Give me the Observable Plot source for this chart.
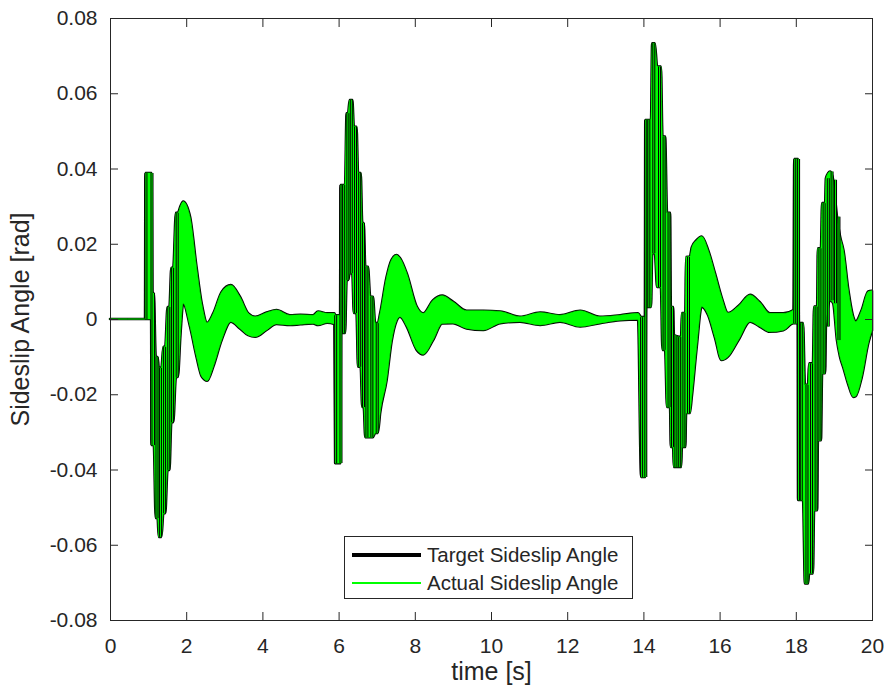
<!DOCTYPE html>
<html>
<head>
<meta charset="utf-8">
<script src="https://cdn.jsdelivr.net/npm/d3@7"></script>
<script src="https://cdn.jsdelivr.net/npm/@observablehq/plot@0.6"></script>
<style>
  html, body { margin: 0; padding: 0; background: #fff; }
  #wrap { position: relative; width: 888px; height: 696px; font-family: "Liberation Sans", Arial, Helvetica, sans-serif; }
  #legend { position: absolute; left: 344px; top: 536px; width: 289px; height: 63px; border: 1px solid #262626; background: #fff; box-sizing: border-box; }
  .lg-row { position: absolute; left: 0; height: 28px; width: 100%; }
  .lg-line { position: absolute; left: 7px; width: 69px; }
  .lg-text { position: absolute; left: 82px; font-size: 20.5px; color: #262626; white-space: nowrap; line-height: 28px; top: 0; }
</style>
</head>
<body>
<div id="wrap">
  <div id="chart"></div>
  <div id="legend">
    <div class="lg-row" style="top:4px"><div class="lg-line" style="top:12px;height:4px;background:#000"></div><div class="lg-text">Target Sideslip Angle</div></div>
    <div class="lg-row" style="top:32px"><div class="lg-line" style="top:13px;height:1.5px;background:#00ff00"></div><div class="lg-text">Actual Sideslip Angle</div></div>
  </div>
</div>
<script>
// Envelope of the oscillating sideslip signal (time [s], upper and lower value [rad])
const time = [0, 0.92, 0.93, 1.08, 1.09, 1.11, 1.15, 1.20, 1.25, 1.28, 1.35, 1.40, 1.45, 1.51, 1.56, 1.61, 1.66, 1.73, 1.78, 1.85, 1.92, 2.10, 2.27, 2.41, 2.55, 2.71, 2.93, 3.17, 3.41, 3.63, 3.81, 4.11, 4.37, 4.72, 5.00, 5.33, 5.46, 5.70, 5.89,
  5.91, 6.04, 6.05, 6.06, 6.17, 6.21, 6.25, 6.29, 6.36, 6.40, 6.47, 6.51, 6.58, 6.62, 6.66, 6.70, 6.77, 6.83, 6.90, 6.96, 7.03, 7.09, 7.26, 7.39, 7.52, 7.61, 7.79, 8.05, 8.22, 8.48, 8.72, 9.00, 9.36, 9.80, 10.24, 10.76, 11.29, 11.81, 12.34, 12.86, 13.39, 13.86,
  13.94, 14.04, 14.05, 14.07, 14.20, 14.23, 14.30, 14.36, 14.46, 14.50, 14.57, 14.62, 14.70, 14.72, 14.78, 14.80, 14.99, 15.01, 15.10, 15.12, 15.22, 15.27, 15.40, 15.53, 15.70, 15.88, 16.05, 16.22, 16.50, 16.80, 17.05, 17.32, 17.67, 17.94,
  17.96, 18.05, 18.06, 18.08, 18.19, 18.24, 18.32, 18.35, 18.45, 18.48, 18.56, 18.58, 18.66, 18.69, 18.77, 18.79, 18.90, 18.98, 19.08, 19.16, 19.25, 19.38, 19.51, 19.57, 19.73, 19.90, 20.00];
const upper = [0, 0, 0.0388, 0.0388, 0.0388, 0.0069, 0.0069, -0.0101, -0.0101, -0.0130, -0.0130, -0.0074, -0.0074, 0.0032, 0.0032, 0.0136, 0.0136, 0.0282, 0.0282, 0.0300, 0.0312, 0.0272, 0.0139, 0.0040, -0.0010, 0.0015, 0.0072, 0.0090, 0.0059, 0.0015, 0.0006, 0.0017, 0.0024, 0.0010, 0.0011, 0.0010, 0.0020, 0.0015, 0.0015,
  0.0010, 0.0010, 0.0356, 0.0356, 0.0356, 0.0547, 0.0547, 0.0582, 0.0582, 0.0511, 0.0511, 0.0388, 0.0388, 0.0255, 0.0255, 0.0139, 0.0139, 0.0059, 0.0059, -0.0011, -0.0011, 0.0015, 0.0112, 0.0157, 0.0170, 0.0162, 0.0121, 0.0033, 0.0015, 0.0050, 0.0062, 0.0046, 0.0022, 0.0022, 0.0020, 0.0006, 0.0017, 0.0010, 0.0022, 0.0006, 0.0010, 0.0015,
  0.0005, 0.0005, 0.0529, 0.0529, 0.0529, 0.0733, 0.0733, 0.0671, 0.0671, 0.0485, 0.0485, 0.0282, 0.0282, 0.0032, 0.0032, -0.0043, -0.0048, 0.0016, 0.0016, 0.0165, 0.0166, 0.0190, 0.0210, 0.0219, 0.0183, 0.0121, 0.0059, 0.0016, 0.0035, 0.0064, 0.0045, 0.0015, 0.0015, 0.0024,
  0.0425, 0.0425, 0.0425, -0.0011, -0.0011, -0.0175, -0.0175, -0.0118, -0.0118, 0.0033, 0.0033, 0.0188, 0.0188, 0.0308, 0.0308, 0.0374, 0.0392, 0.0370, 0.0272, 0.0220, 0.0183, 0.0077, 0.0005, -0.0007, 0.0024, 0.0073, 0.0075];
const lower = [0, 0, 0, 0, -0.0335, -0.0335, -0.0335, -0.0529, -0.0529, -0.0579, -0.0579, -0.0516, -0.0516, -0.0401, -0.0401, -0.0274, -0.0274, -0.0154, -0.0154, -0.0040, 0.0042, -0.0020, -0.0100, -0.0153, -0.0164, -0.0127, -0.0056, -0.0007, -0.0025, -0.0043, -0.0047, -0.0029, -0.0013, -0.0016, -0.0014, -0.0012, -0.0016, -0.0010, -0.0013,
  -0.0383, -0.0383, -0.0383, -0.0037, -0.0037, 0.0104, 0.0104, 0.0122, 0.0122, 0.0016, 0.0016, -0.0127, -0.0127, -0.0234, -0.0234, -0.0314, -0.0314, -0.0314, -0.0314, -0.0303, -0.0303, -0.0250, -0.0162, -0.0060, -0.0005, 0.0006, -0.0020, -0.0082, -0.0094, -0.0056, -0.0012, -0.0011, -0.0025, -0.0029, -0.0011, -0.0007, -0.0016, -0.0007, -0.0020, -0.0011, -0.0003, -0.0001,
  -0.0420, -0.0420, -0.0420, 0.0032, 0.0032, 0.0175, 0.0175, 0.0085, 0.0085, -0.0082, -0.0082, -0.0234, -0.0234, -0.0340, -0.0340, -0.0393, -0.0393, -0.0340, -0.0340, -0.0250, -0.0250, -0.0207, -0.0074, 0.0033, 0.0010, -0.0050, -0.0109, -0.0100, -0.0055, -0.0007, -0.0020, -0.0034, -0.0030, -0.0011,
  -0.0011, -0.0011, -0.0481, -0.0481, -0.0481, -0.0703, -0.0703, -0.0676, -0.0676, -0.0508, -0.0508, -0.0322, -0.0322, -0.0144, -0.0144, -0.0020, 0.0050, 0.0042, -0.0056, -0.0100, -0.0130, -0.0175, -0.0207, -0.0205, -0.0155, -0.0065, -0.0030];

// Discrete oscillation strokes visible in the transient bursts (time, low, high)
const strokeTime = [0.93, 1.09, 1.13, 1.22, 1.31, 1.42, 1.53, 1.63, 1.75,
  5.91, 6.05, 6.12, 6.23, 6.32, 6.43, 6.54, 6.64, 6.73, 6.86, 7.00,
  13.94, 14.05, 14.13, 14.26, 14.41, 14.53, 14.66, 14.75, 14.84, 14.94, 15.05, 15.17,
  17.96, 18.06, 18.13, 18.28, 18.40, 18.52, 18.62, 18.73, 18.84, 18.94, 19.03, 19.12];
const strokeLow = [0, -0.0335, -0.0335, -0.0529, -0.0579, -0.0516, -0.0401, -0.0274, -0.0154,
  -0.0383, -0.0383, -0.0037, 0.0104, 0.0122, 0.0016, -0.0127, -0.0234, -0.0314, -0.0314, -0.0303,
  -0.0420, -0.0420, 0.0032, 0.0175, 0.0085, -0.0082, -0.0234, -0.0340, -0.0393, -0.0393, -0.0340, -0.0250,
  -0.0011, -0.0481, -0.0481, -0.0703, -0.0676, -0.0508, -0.0322, -0.0144, -0.0020, 0.0050, 0.0042, -0.0056];
const strokeHigh = [0.0388, 0.0388, 0.0069, -0.0101, -0.0130, -0.0074, 0.0032, 0.0136, 0.0282,
  0.0010, 0.0356, 0.0356, 0.0547, 0.0582, 0.0511, 0.0388, 0.0255, 0.0139, 0.0059, -0.0011,
  0.0005, 0.0529, 0.0529, 0.0733, 0.0671, 0.0485, 0.0282, 0.0032, -0.0043, -0.0048, 0.0016, 0.0165,
  0.0425, 0.0425, -0.0011, -0.0175, -0.0118, 0.0033, 0.0188, 0.0308, 0.0374, 0.0392, 0.0370, 0.0272];

const xTicks = [0, 2, 4, 6, 8, 10, 12, 14, 16, 18, 20];
const yTicks = [-0.08, -0.06, -0.04, -0.02, 0, 0.02, 0.04, 0.06, 0.08];
const yTickLabels = ["-0.08", "-0.06", "-0.04", "-0.02", "0", "0.02", "0.04", "0.06", "0.08"];

const env = time.map((t, i) => ({t, hi: upper[i], lo: lower[i]}));
const strokes = strokeTime.map((t, i) => ({t, lo: strokeLow[i], hi: strokeHigh[i]}));

const axisColor = "#262626";
const fs = 21;
const labelFs = 25;

const chart = Plot.plot({
  width: 888,
  height: 696,
  marginLeft: 110,
  marginRight: 16,
  marginTop: 18,
  marginBottom: 76,
  style: {fontFamily: '"Liberation Sans", Arial, Helvetica, sans-serif', background: "#fff", color: axisColor},
  x: {domain: [0, 20]},
  y: {domain: [-0.08, 0.08]},
  marks: [
    // Target (black, thick)
    Plot.areaY(env, {x: "t", y1: "lo", y2: "hi", fill: "black", stroke: "black", strokeWidth: 2.6, curve: "monotone-x"}),
    // Actual (green, thin)
    Plot.areaY(env, {x: "t", y1: "lo", y2: "hi", fill: "#00ff00", stroke: "#00ff00", strokeWidth: 0.6, curve: "monotone-x"}),
    Plot.ruleX(strokes, {x: "t", y1: "lo", y2: "hi", stroke: "black", strokeWidth: 3}),
    Plot.ruleX(strokes, {x: "t", y1: "lo", y2: "hi", stroke: "#00ff00", strokeWidth: 1}),
    Plot.frame({stroke: axisColor, strokeWidth: 1}),
    Plot.axisX(xTicks, {anchor: "bottom", tickSize: -8, tickPadding: 26, fontSize: fs, tickFormat: d => String(d), label: null, stroke: axisColor}),
    Plot.axisX(xTicks, {anchor: "top", tickSize: -8, tickFormat: () => "", label: null, stroke: axisColor}),
    Plot.axisY(yTicks, {anchor: "left", tickSize: -8, tickPadding: 21, fontSize: fs, tickFormat: d => yTickLabels[yTicks.indexOf(d)], label: null, stroke: axisColor}),
    Plot.axisY(yTicks, {anchor: "right", tickSize: -8, tickFormat: () => "", label: null, stroke: axisColor}),
    Plot.text(["time [s]"], {frameAnchor: "bottom", dy: 42, fontSize: labelFs, fill: axisColor, lineAnchor: "top", textAnchor: "middle", text: d => d}),
    Plot.text(["Sideslip Angle [rad]"], {frameAnchor: "left", dx: -99, rotate: -90, fontSize: labelFs, fill: axisColor, lineAnchor: "top", textAnchor: "middle", text: d => d})
  ]
});
document.getElementById("chart").appendChild(chart);
</script>
</body>
</html>
